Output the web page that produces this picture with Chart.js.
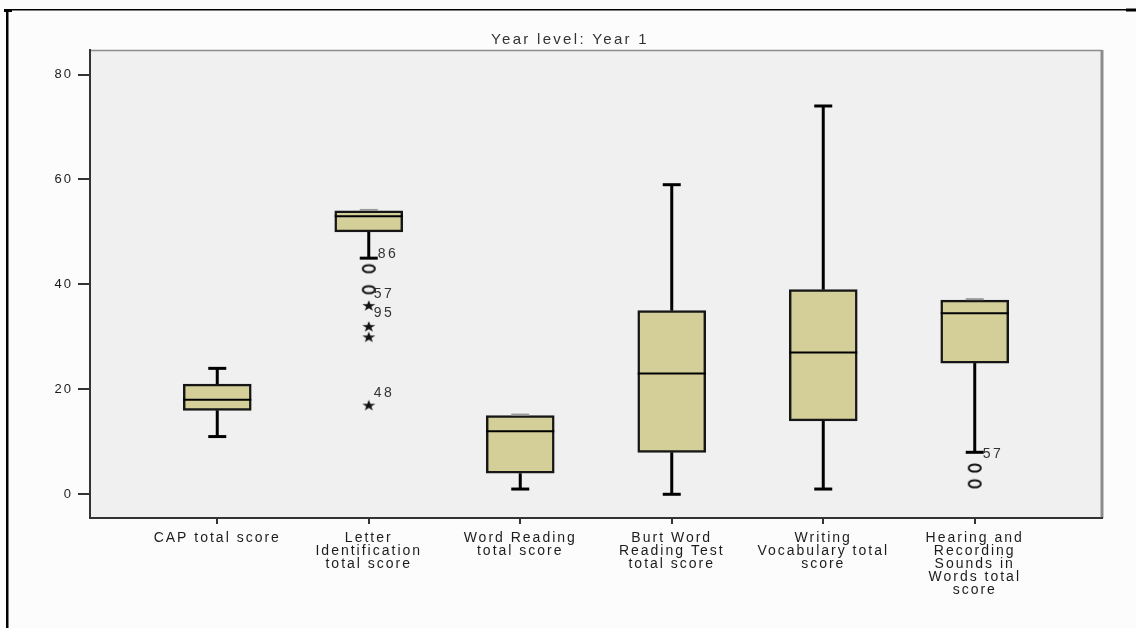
<!DOCTYPE html>
<html>
<head>
<meta charset="utf-8">
<script src="https://cdn.jsdelivr.net/npm/chart.js@4.4.1/dist/chart.umd.min.js"></script>
<style>
    html, body { margin: 0; padding: 0; background: #fcfcfc; }
    #wrap { width: 1136px; height: 628px; position: relative; }
</style>
</head>
<body>
<div id="wrap"><canvas id="myChart"></canvas></div>
<script>
// chart data
const categories = [
    ['CAP total score'],
    ['Letter', 'Identification', 'total score'],
    ['Word Reading', 'total score'],
    ['Burt Word', 'Reading Test', 'total score'],
    ['Writing', 'Vocabulary total', 'score'],
    ['Hearing and', 'Recording', 'Sounds in', 'Words total', 'score']
];
const whiskerLow = [11, 45, 1, 0, 1, 8];
const quartile1 = [16, 50, 4, 8, 14, 25];
const medians = [18, 53, 12, 23, 27, 34.5];
const quartile3 = [21, 54, 15, 35, 39, 37];
const whiskerHigh = [24, 54, 15, 59, 74, 37];

const outlierCategory = [1, 1, 1, 1, 1, 1, 5, 5];
const outlierValues = [43, 39, 36, 32, 30, 17, 5, 2];
const outlierKind = ['circle', 'circle', 'star', 'star', 'star', 'star', 'circle', 'circle'];
const outlierLabels = ['86', '57', '95', '', '', '48', '57', ''];

const yTicks = [0, 20, 40, 60, 80];
const chartTitle = 'Year level: Year 1';

// label placement next to the marker (pixels)
const labelDx = [9, 5, 5, 0, 0, 5, 8, 0];
const labelDy = [-15, 4, 8, 0, 0, -12, -14, 0];

const FONT = "'Liberation Sans', Arial, sans-serif";
const TEXT = '#1c1c1c';

function makeCircle() {
    const c = document.createElement('canvas');
    c.width = 16; c.height = 12;
    const g = c.getContext('2d');
    g.strokeStyle = '#111';
    g.lineWidth = 2;
    g.beginPath();
    g.ellipse(8, 6, 6, 3.6, 0, 0, Math.PI * 2);
    g.stroke();
    return c;
}

function makeStar() {
    const c = document.createElement('canvas');
    c.width = 16; c.height = 13;
    const g = c.getContext('2d');
    g.fillStyle = '#111';
    g.beginPath();
    for (let k = 0; k < 10; k++) {
        const r = k % 2 == 0 ? 6.8 : 2.7;
        const a = -Math.PI / 2 + k * Math.PI / 5;
        const px = 8 + r * Math.cos(a);
        const py = 7 + r * Math.sin(a) * 0.85;
        if (k == 0) g.moveTo(px, py); else g.lineTo(px, py);
    }
    g.closePath();
    g.fill();
    return c;
}

const circleImg = makeCircle();
const starImg = makeStar();

const boxPlugin = {
    id: 'boxPlugin',
    beforeLayout(chart) {
        chart.ctx.letterSpacing = '2px';
    },
    beforeDraw(chart) {
        const ctx = chart.ctx;
        const a = chart.chartArea;
        ctx.save();
        ctx.fillStyle = '#fcfcfc';
        ctx.fillRect(0, 0, chart.width, chart.height);

        // outer frame
        ctx.fillStyle = '#000';
        ctx.fillRect(6, 9, 1120, 1.5);
        ctx.fillRect(1126, 8.5, 10, 3);
        ctx.fillRect(4, 9, 8, 3);
        ctx.fillRect(6, 9, 2.5, chart.height - 9);

        // plot background
        ctx.fillStyle = '#f0f0f0';
        ctx.fillRect(a.left, a.top, a.right - a.left, a.bottom - a.top);
        ctx.strokeStyle = '#8c8c8c';
        ctx.lineWidth = 1.5;
        ctx.beginPath();
        ctx.moveTo(a.left, a.top + 0.5);
        ctx.lineTo(a.right, a.top + 0.5);
        ctx.stroke();
        ctx.lineWidth = 3;
        ctx.beginPath();
        ctx.moveTo(a.right, a.top);
        ctx.lineTo(a.right, a.bottom);
        ctx.stroke();
        ctx.restore();
        ctx.letterSpacing = '2px';
    },
    afterDatasetsDraw(chart) {
        const ctx = chart.ctx;
        const xs = chart.scales.x;
        const ys = chart.scales.y;
        ctx.save();
        ctx.strokeStyle = '#000';
        ctx.lineCap = 'butt';

        for (let i = 0; i < categories.length; i++) {
            const x = xs.getPixelForValue(i);
            const half = 34;
            const cap = 9;

            // whiskers
            [[quartile3[i], whiskerHigh[i]], [quartile1[i], whiskerLow[i]]].forEach(([from, to]) => {
                const y0 = ys.getPixelForValue(from);
                const y1 = ys.getPixelForValue(to);
                if (from != to) {
                    ctx.strokeStyle = '#000';
                    ctx.lineWidth = 3;
                    ctx.beginPath();
                    ctx.moveTo(x, y0);
                    ctx.lineTo(x, y1);
                    ctx.stroke();
                    ctx.beginPath();
                    ctx.moveTo(x - cap, y1);
                    ctx.lineTo(x + cap, y1);
                    ctx.stroke();
                } else {
                    ctx.strokeStyle = '#9a9a9a';
                    ctx.lineWidth = 2;
                    ctx.beginPath();
                    ctx.moveTo(x - cap, y1 - 1);
                    ctx.lineTo(x + cap, y1 - 1);
                    ctx.stroke();
                }
            });

            // median
            ctx.strokeStyle = '#000';
            ctx.lineWidth = 2;
            const ym = ys.getPixelForValue(medians[i]);
            ctx.beginPath();
            ctx.moveTo(x - half, ym);
            ctx.lineTo(x + half, ym);
            ctx.stroke();
        }

        // outlier case labels
        ctx.fillStyle = '#333';
        ctx.font = '14px ' + FONT;
        ctx.letterSpacing = '2.5px';
        ctx.textAlign = 'left';
        ctx.textBaseline = 'middle';
        for (let j = 0; j < outlierValues.length; j++) {
            if (!outlierLabels[j]) continue;
            const x = xs.getPixelForValue(outlierCategory[j]);
            const y = ys.getPixelForValue(outlierValues[j]);
            ctx.fillText(outlierLabels[j], x + labelDx[j], y + labelDy[j]);
        }
        ctx.restore();
    },
    afterDraw(chart) {
        const ctx = chart.ctx;
        ctx.save();
        ctx.fillStyle = '#333';
        ctx.font = '15px ' + FONT;
        ctx.letterSpacing = '2.3px';
        ctx.textAlign = 'center';
        ctx.textBaseline = 'middle';
        ctx.fillText(chartTitle, 570, 40);
        ctx.restore();
    }
};

function initChart() {
    const ctx = document.getElementById('myChart');
    const myChart = new Chart(ctx, {
        type: 'bar',
        data: {
            datasets: [{
                type: 'bar',
                data: quartile1.map((v, i) => ({ x: i, y: [v, quartile3[i]] })),
                backgroundColor: '#d4cf98',
                borderColor: '#161616',
                borderWidth: 2.5,
                borderSkipped: false,
                barThickness: 68,
                grouped: false,
                order: 2
            }, {
                type: 'scatter',
                data: outlierValues.map((v, i) => ({ x: outlierCategory[i], y: v })),
                pointStyle: outlierKind.map(k => k == 'circle' ? circleImg : starImg),
                order: 1
            }]
        },
        options: {
            responsive: true,
            maintainAspectRatio: false,
            animation: false,
            events: [],
            layout: {
                padding: { top: 50, right: 34, left: 0, bottom: 0 }
            },
            scales: {
                x: {
                    type: 'linear',
                    offset: false,
                    min: -0.84,
                    max: 5.84,
                    afterBuildTicks: (s) => {
                        s.ticks = categories.map((c, i) => ({ value: i }));
                    },
                    afterFit: (s) => { s.height = 110; },
                    ticks: {
                        callback: (v) => categories[v],
                        maxRotation: 0,
                        autoSkip: false,
                        padding: 8,
                        color: TEXT,
                        font: { family: FONT, size: 14, lineHeight: '13px' }
                    },
                    grid: {
                        offset: false,
                        drawOnChartArea: false,
                        drawTicks: true,
                        tickLength: 6,
                        tickColor: '#333',
                        lineWidth: 2
                    },
                    border: { color: '#333', width: 2 }
                },
                y: {
                    min: -4.52,
                    max: 84.67,
                    afterBuildTicks: (s) => {
                        s.ticks = yTicks.map(v => ({ value: v }));
                    },
                    afterFit: (s) => { s.width = 90; },
                    ticks: {
                        padding: 5,
                        color: TEXT,
                        font: { family: FONT, size: 13 }
                    },
                    grid: {
                        drawOnChartArea: false,
                        drawTicks: true,
                        tickLength: 12,
                        tickColor: '#333',
                        lineWidth: 2
                    },
                    border: { color: '#333', width: 2 }
                }
            },
            plugins: {
                legend: { display: false },
                tooltip: { enabled: false },
                title: { display: false }
            }
        },
        plugins: [boxPlugin]
    });
}

initChart();
</script>
</body>
</html>
